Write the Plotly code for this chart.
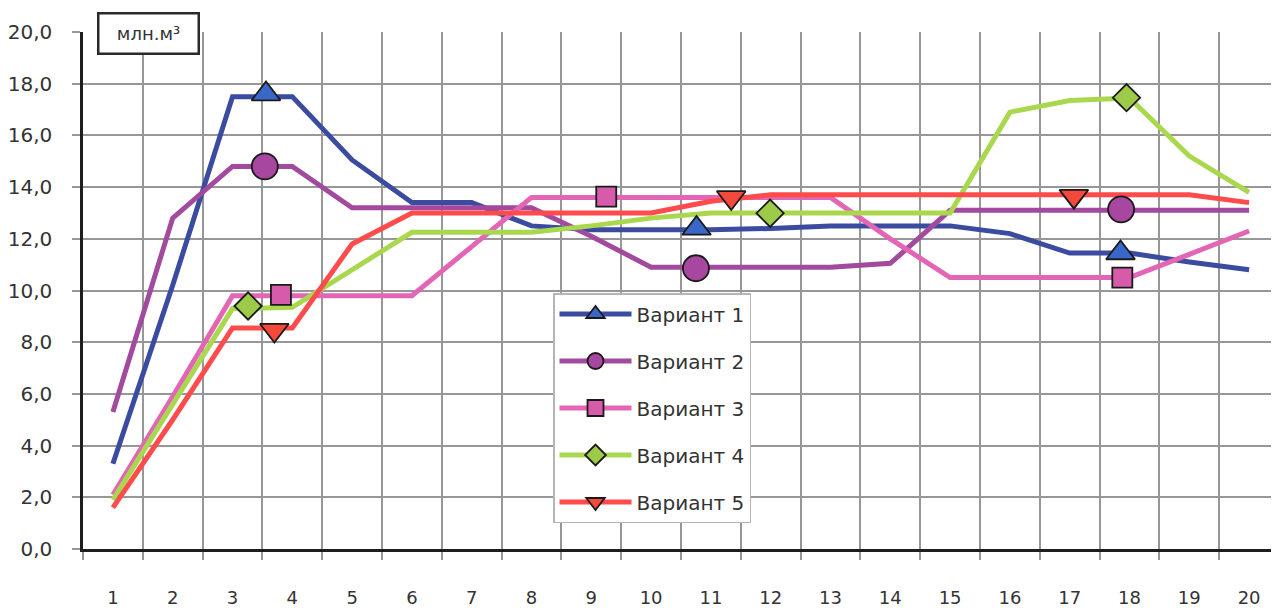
import plotly.graph_objects as go

categories = list(range(1, 21))

series_names = ["Вариант 1", "Вариант 2", "Вариант 3", "Вариант 4", "Вариант 5"]

v1 = [3.3, 10.2, 17.5, 17.5, 15.05, 13.4, 13.4, 12.5, 12.35, 12.35, 12.35, 12.4, 12.5, 12.5, 12.5, 12.2, 11.45, 11.45, 11.1, 10.8]
v2 = [5.3, 12.8, 14.8, 14.8, 13.2, 13.2, 13.2, 13.2, 12.1, 10.9, 10.9, 10.9, 10.9, 11.05, 13.1, 13.1, 13.1, 13.1, 13.1, 13.1]
v3 = [2.1, 5.9, 9.8, 9.8, 9.8, 9.8, 11.7, 13.6, 13.6, 13.6, 13.6, 13.6, 13.6, 12.0, 10.5, 10.5, 10.5, 10.5, 11.4, 12.3]
v4 = [1.9, 5.6, 9.3, 9.35, 10.8, 12.25, 12.25, 12.25, 12.5, 12.8, 13.0, 13.0, 13.0, 13.0, 13.0, 16.9, 17.35, 17.45, 15.2, 13.8]
v5 = [1.6, 5.0, 8.55, 8.55, 11.8, 13.0, 13.0, 13.0, 13.0, 13.0, 13.45, 13.7, 13.7, 13.7, 13.7, 13.7, 13.7, 13.7, 13.7, 13.4]

# marker positions (x in category units, y values)
m1_x = [3.56, 10.76, 17.85]
m1_y = [17.6, 12.4, 11.45]
m2_x = [3.54, 10.75, 17.86]
m2_y = [14.8, 10.86, 13.14]
m3_x = [3.81, 9.25, 17.88]
m3_y = [9.83, 13.63, 10.5]
m4_x = [3.26, 11.99, 17.95]
m4_y = [9.4, 12.99, 17.46]
m5_x = [3.7, 11.34, 17.07]
m5_y = [8.47, 13.6, 13.65]

y_ticks = [0, 2, 4, 6, 8, 10, 12, 14, 16, 18, 20]
y_ticktext = [f"{v:.1f}".replace(".", ",") for v in y_ticks]
x_ticktext = [str(c) for c in categories]

unit_label = "млн.м³"

line_colors = ["#3B4CA0", "#A24A9E", "#E266B5", "#A9D84E", "#FF4B4B"]
marker_colors = ["#3A68C8", "#A8479F", "#D65BAA", "#9CCB4A", "#F5493B"]
symbols = ["triangle-up", "circle", "square", "diamond", "triangle-down"]
msizes = [25, 26, 20, 21, 25]

values = [v1, v2, v3, v4, v5]
mxs = [m1_x, m2_x, m3_x, m4_x, m5_x]
mys = [m1_y, m2_y, m3_y, m4_y, m5_y]

fig = go.Figure()

for i in range(5):
    fig.add_trace(go.Scatter(
        x=categories, y=values[i], mode="lines",
        line=dict(color=line_colors[i], width=5),
        showlegend=False, legendgroup=f"g{i}", hoverinfo="skip",
    ))

for i in range(5):
    xs, ys = [], []
    for j, (a, b) in enumerate(zip(mxs[i], mys[i])):
        if j:
            xs.append(None)
            ys.append(None)
        xs.append(a)
        ys.append(b)
    fig.add_trace(go.Scatter(
        x=xs, y=ys, mode="lines+markers", connectgaps=False,
        name=series_names[i], legendgroup=f"g{i}",
        line=dict(color=line_colors[i], width=5),
        marker=dict(symbol=symbols[i], size=msizes[i], color=marker_colors[i],
                    line=dict(color="#1a1a1a", width=1.8)),
    ))

grid_col = "#979797"
fig.update_xaxes(
    range=[0.5, 20.5], tickmode="array", tickvals=categories, ticktext=x_ticktext,
    showgrid=False, ticks="", zeroline=False,
    showline=True, linecolor="#1e1e1e", linewidth=3,
    tickfont=dict(family="DejaVu Sans", size=18, color="#333333"),
    ticklabelstandoff=30,
    minor=dict(tick0=0.5, dtick=1, showgrid=True, gridcolor=grid_col, gridwidth=1.5,
               ticks="outside", ticklen=8, tickcolor=grid_col, tickwidth=1.5),
)
fig.update_yaxes(
    range=[0, 20], tickmode="array", tickvals=y_ticks, ticktext=y_ticktext,
    showgrid=True, gridcolor=grid_col, gridwidth=1.5, zeroline=False,
    ticks="outside", ticklen=8, tickcolor=grid_col, tickwidth=1.5,
    showline=True, linecolor="#1e1e1e", linewidth=2.5,
    tickfont=dict(family="DejaVu Sans", size=20, color="#333333"),
    ticklabelstandoff=16,
)

# page has an 8px body margin; figure is sized to fit the 1279x610 window
L, T, W, H = 75, 24, 1196, 517
fig.add_annotation(
    text=unit_label, xref="paper", yref="paper", x=(140 - L) / W, y=(T + H - 26) / H,
    xanchor="center", yanchor="middle", showarrow=False,
    font=dict(family="DejaVu Sans", size=18, color="#333333"),
    bgcolor="white", bordercolor="#2a2a2a", borderwidth=2.5, borderpad=4,
    width=90, height=30,
)

fig.update_layout(
    width=1271, height=602,
    margin=dict(l=L, r=0, t=T, b=61),
    plot_bgcolor="white", paper_bgcolor="white",
    legend=dict(
        x=(545 - L) / W, y=(T + H - 285) / H, xanchor="left", yanchor="top",
        bgcolor="white", bordercolor="#b5b5b5", borderwidth=1.5,
        font=dict(family="DejaVu Sans", size=20, color="#333333"),
        tracegroupgap=18, itemwidth=72,
    ),
    showlegend=True,
)

fig.write_html("out.html")
